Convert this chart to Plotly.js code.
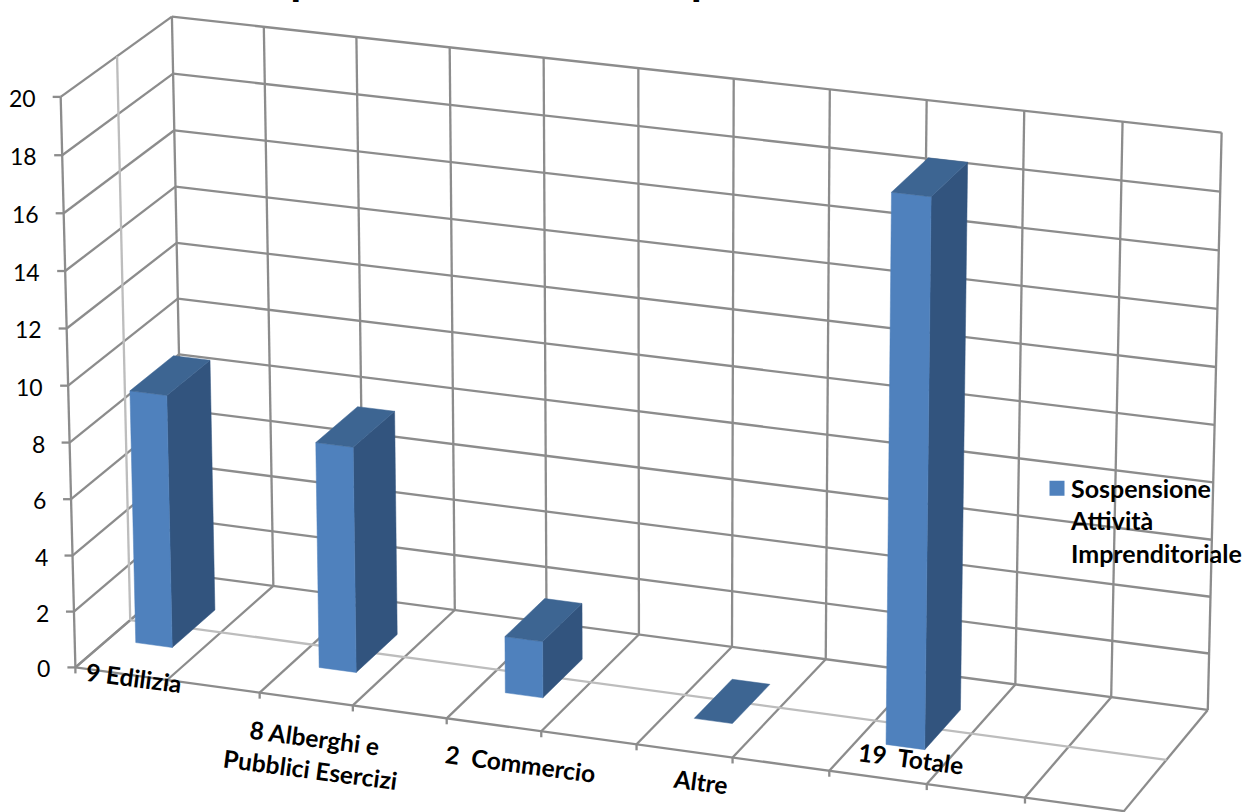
<!DOCTYPE html>
<html><head><meta charset="utf-8">
<script src="https://cdn.plot.ly/plotly-3.0.1.min.js"></script>
<style>html,body{margin:0;padding:0;background:#fff;overflow:hidden}</style></head>
<body><div id="chart" style="width:1248px;height:812px"></div>
<script>
// ---- data ----
const categories = ["Edilizia", "", "Alberghi e<br>Pubblici Esercizi", "", "Commercio", "", "Altre", "", "Totale", "", ""];
const values     = [9, null, 8, null, 2, null, 0, null, 19, null, null];
const valueTicks = [0, 2, 4, 6, 8, 10, 12, 14, 16, 18, 20];
const labelTexts = ["9 Edilizia", "8 Alberghi e<br>Pubblici Esercizi", "2&nbsp;&nbsp;Commercio", "Altre", "19&nbsp;&nbsp;Totale"];
const seriesName = "Sospensione<br>Attività<br>Imprenditoriale";
const chartTitle = "Sospensione Attività Imprenditoriale";

// ---- 3D view: calibration of the perspective (category u, depth d, value v -> page px) ----
const anchors = [
 [0,0,0,75,667],[0,0,20,61,97],[0,1,0,185,575],[0,1,20,172,16],
 [11,1,0,1208,710],[11,1,20,1222,133],[11,0,0,1125,812],
 [2,0,0,259,693],[4,0,0,447,719],[6,0,0,637,743],[8,0,0,829,771],[10,0,0,1025,797],
 [6,1,0,733,647],[6,1,20,733,78],[1,1,0,272,585],[9,1,0,1015,685],
 [0,0.5,20,117,57],[11,0.5,0,1165,759]
];
function solve(A,b){const n=b.length;for(let i=0;i<n;i++){let p=i;for(let r=i+1;r<n;r++)if(Math.abs(A[r][i])>Math.abs(A[p][i]))p=r;
 [A[i],A[p]]=[A[p],A[i]];[b[i],b[p]]=[b[p],b[i]];
 for(let r=i+1;r<n;r++){const f=A[r][i]/A[i][i];for(let c=i;c<n;c++)A[r][c]-=f*A[i][c];b[r]-=f*b[i];}}
 const x=Array(n).fill(0);for(let i=n-1;i>=0;i--){let s=b[i];for(let c=i+1;c<n;c++)s-=A[i][c]*x[c];x[i]=s/A[i][i];}return x;}
const M=Array.from({length:11},()=>Array(11).fill(0)),R=Array(11).fill(0);
function eq(row,t){for(let i=0;i<11;i++){R[i]+=row[i]*t;for(let j=0;j<11;j++)M[i][j]+=row[i]*row[j];}}
anchors.forEach(([u,d,v,X,Y])=>{
 const U=u/10,V=v/20;
 eq([1,U,d,V,0,0,0,0,-X*U/1000,-X*d/1000,-X*V/1000],X);
 eq([0,0,0,0,1,U,d,V,-Y*U/1000,-Y*d/1000,-Y*V/1000],Y);
});
const P=solve(M,R);
function proj(u,d,v){const U=u/10,V=v/20,w=1+(P[8]*U+P[9]*d+P[10]*V)/1000;
 return [(P[0]+P[1]*U+P[2]*d+P[3]*V)/w,(P[4]+P[5]*U+P[6]*d+P[7]*V)/w];}

const nCat = categories.length, vMax = valueTicks[valueTicks.length-1];
const traces=[];
function poly(points,extra){const xy=points.map(p=>proj(...p));
 traces.push(Object.assign({x:xy.map(p=>p[0]),y:xy.map(p=>p[1]),type:'scatter',hoverinfo:'skip',showlegend:false},extra));}
function segs(list){const x=[],y=[];list.forEach(([a,b])=>{const A=proj(...a),B=proj(...b);x.push(A[0],B[0],null);y.push(A[1],B[1],null);});return {x,y};}

// ---- grid ----
const dark=[];
for(let i=0;i<=nCat;i++){dark.push([[i,0,0],[i,1,0]]);dark.push([[i,1,0],[i,1,vMax]]);}
valueTicks.forEach(t=>{dark.push([[0,0,t],[0,1,t]]);dark.push([[0,1,t],[nCat,1,t]]);});
dark.push([[0,0,0],[nCat,0,0]]);dark.push([[0,0,0],[0,0,vMax]]);
const darkXY=segs(dark);
// tick marks
valueTicks.forEach(t=>{const p=proj(0,0,t);darkXY.x.push(p[0]-8,p[0],null);darkXY.y.push(p[1],p[1],null);});
for(let i=0;i<=nCat;i++){const p=proj(i,0,0);darkXY.x.push(p[0],p[0],null);darkXY.y.push(p[1],p[1]+6,null);}
traces.push({x:darkXY.x,y:darkXY.y,type:'scatter',mode:'lines',line:{color:'#8C8C8C',width:2.3},hoverinfo:'skip',showlegend:false});
const lightXY=segs([[[0,.5,0],[0,.5,vMax]],[[0,.5,0],[nCat,.5,0]]]);
traces.push({x:lightXY.x,y:lightXY.y,type:'scatter',mode:'lines',line:{color:'#BDBDBD',width:2.3},hoverinfo:'skip',showlegend:false});

// ---- bars ----
const FILL={front:'#4F81BD',side:'#32547E',top:'#3D6592'};
const u0=.3,u1=.7,d0=.3,d1=.7;
const face=(c)=>({mode:'lines',fill:'toself',fillcolor:c,line:{color:c,width:0.5}});
values.forEach((val,i)=>{ if(val===null) return;
 const a=i+u0,b=i+u1;
 if(val>0){
  poly([[b,d0,0],[b,d1,0],[b,d1,val],[b,d0,val],[b,d0,0]],face(FILL.side));
  poly([[a,d0,0],[b,d0,0],[b,d0,val],[a,d0,val],[a,d0,0]],face(FILL.front));
 }
 poly([[a,d0,val],[b,d0,val],[b,d1,val],[a,d1,val],[a,d0,val]],face(FILL.top));
});

// legend carrier
traces.push({x:[-100],y:[-100],type:'scatter',mode:'markers',name:seriesName,
 marker:{symbol:'square',size:15,color:FILL.front},hoverinfo:'skip',showlegend:true});

// ---- text ----
const FONT='Lato, Carlito, sans-serif';
const ann=[];
valueTicks.forEach(t=>{const p=proj(0,0,t);
 ann.push({x:p[0]-23,y:p[1]+1,xref:'x',yref:'y',text:String(t),showarrow:false,xanchor:'right',yanchor:'middle',font:{family:FONT,size:23,color:'#000'}});});
const labelPos=[[134,677],[312,753],[520,763],[700,781],[911,758]];
labelTexts.forEach((t,i)=>{
 ann.push({x:labelPos[i][0],y:labelPos[i][1],xref:'x',yref:'y',text:'<b>'+t+'</b>',showarrow:false,xanchor:'center',yanchor:'middle',textangle:7.5,
  font:{family:FONT,size:24.5,color:'#000'}});});
ann.push({x:584,y:6,xref:'x',yref:'y',text:'<b>'+chartTitle+'</b>',showarrow:false,xanchor:'center',yanchor:'bottom',font:{family:FONT,size:45,color:'#000'}});

const layout={width:1248,height:812,margin:{l:0,r:0,t:0,b:0},paper_bgcolor:'#fff',plot_bgcolor:'#fff',
 xaxis:{range:[0,1248],visible:false,fixedrange:true},
 yaxis:{range:[812,0],visible:false,fixedrange:true},
 showlegend:true,
 legend:{x:1031/1248,y:1-465/812,xanchor:'left',yanchor:'top',bgcolor:'rgba(0,0,0,0)',itemclick:false,itemdoubleclick:false,
  font:{family:FONT,size:25,color:'#000',weight:700}},
 annotations:ann};
Plotly.newPlot('chart',traces,layout,{displayModeBar:false,staticPlot:true}).then(()=>{
 // the swatch sits beside the first legend line, close to the text
 const s=document.querySelector('.legend .legendsymbols');
 if(s) s.setAttribute('transform','translate(6,-32)');
});
</script></body></html>
